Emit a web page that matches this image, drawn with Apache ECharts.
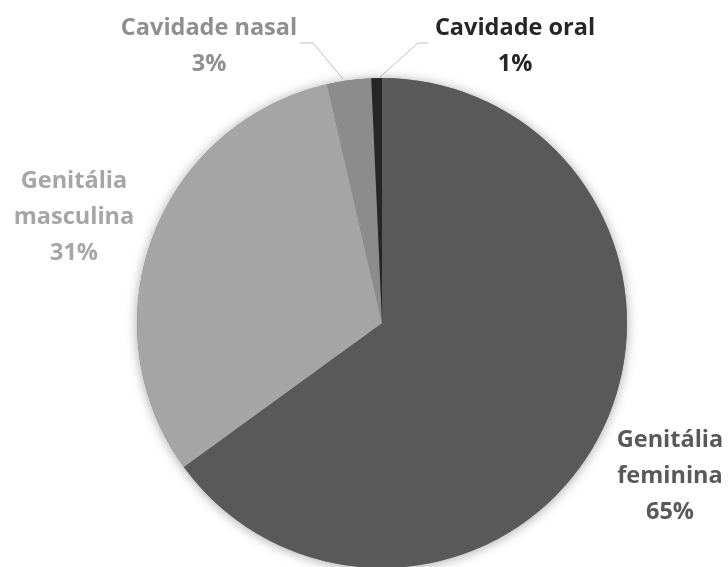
<!DOCTYPE html>
<html>
<head>
<meta charset="utf-8">
<script src="https://cdn.jsdelivr.net/npm/echarts@6/dist/echarts.min.js"></script>
<style>
  html, body { margin: 0; padding: 0; background: #ffffff; }
  #chart { width: 728px; height: 567px; }
</style>
</head>
<body>
<div id="chart"></div>
<script>
// ---- data ----
const categories = ['Genitália feminina', 'Genitália masculina', 'Cavidade nasal', 'Cavidade oral'];
const labelNames = ['Genitália\nfeminina', 'Genitália\nmasculina', 'Cavidade nasal', 'Cavidade oral'];
const values = [65.0, 31.4, 2.9, 0.7];
const percentLabels = ['65%', '31%', '3%', '1%'];

// ---- styles ----
const sliceColors = ['#595959', '#a5a5a5', '#8c8c8c', '#262626'];
const textColors = ['#595959', '#a6a6a6', '#8f8f8f', '#262626'];
const showLine = [false, false, true, true];
// label anchor (center of text block) and leader lines
const labelPos = [[670, 476], [74, 217], [209, 46], [515, 46]];
const linePts = [null, null,
  [[343, 79], [313, 43], [300, 43]],
  [[380, 77], [418, 43], [428, 43]]];

const CENTER = [382, 323];
const RADIUS = 245;
const FONT = '"Open Sans"';

const total = values.reduce((a, b) => a + b, 0);

const chart = echarts.init(document.getElementById('chart'), null, { renderer: 'canvas' });
chart.setOption({
  backgroundColor: '#ffffff',
  animation: false,
  series: [
    {
      // backing disc for soft shadow
      type: 'pie',
      silent: true,
      center: CENTER,
      radius: RADIUS,
      startAngle: 90,
      label: { show: false },
      labelLine: { show: false },
      itemStyle: {
        color: '#808080',
        shadowBlur: 12,
        shadowColor: 'rgba(0,0,0,0.35)',
        shadowOffsetX: 0,
        shadowOffsetY: 1
      },
      data: [{ name: 'total', value: total }]
    },
    {
      type: 'pie',
      center: CENTER,
      radius: RADIUS,
      startAngle: 90,
      clockwise: true,
      avoidLabelOverlap: false,
      itemStyle: { borderWidth: 0 },
      data: categories.map((c, i) => ({
        name: c,
        value: values[i],
        itemStyle: { color: sliceColors[i] },
        label: {
          show: true,
          position: 'outside',
          formatter: labelNames[i] + '\n' + percentLabels[i],
          color: textColors[i],
          fontFamily: FONT,
          fontWeight: 'bold',
          fontSize: 23.5,
          lineHeight: 36,
          align: 'center'
        },
        labelLine: {
          show: showLine[i],
          lineStyle: { color: '#bfbfbf', width: 1 }
        }
      })),
      labelLayout: function (params) {
        const i = params.dataIndex;
        const out = {
          x: labelPos[i][0],
          y: labelPos[i][1],
          align: 'center',
          verticalAlign: 'middle'
        };
        if (linePts[i]) out.labelLinePoints = linePts[i];
        return out;
      }
    }
  ]
});
</script>
</body>
</html>
